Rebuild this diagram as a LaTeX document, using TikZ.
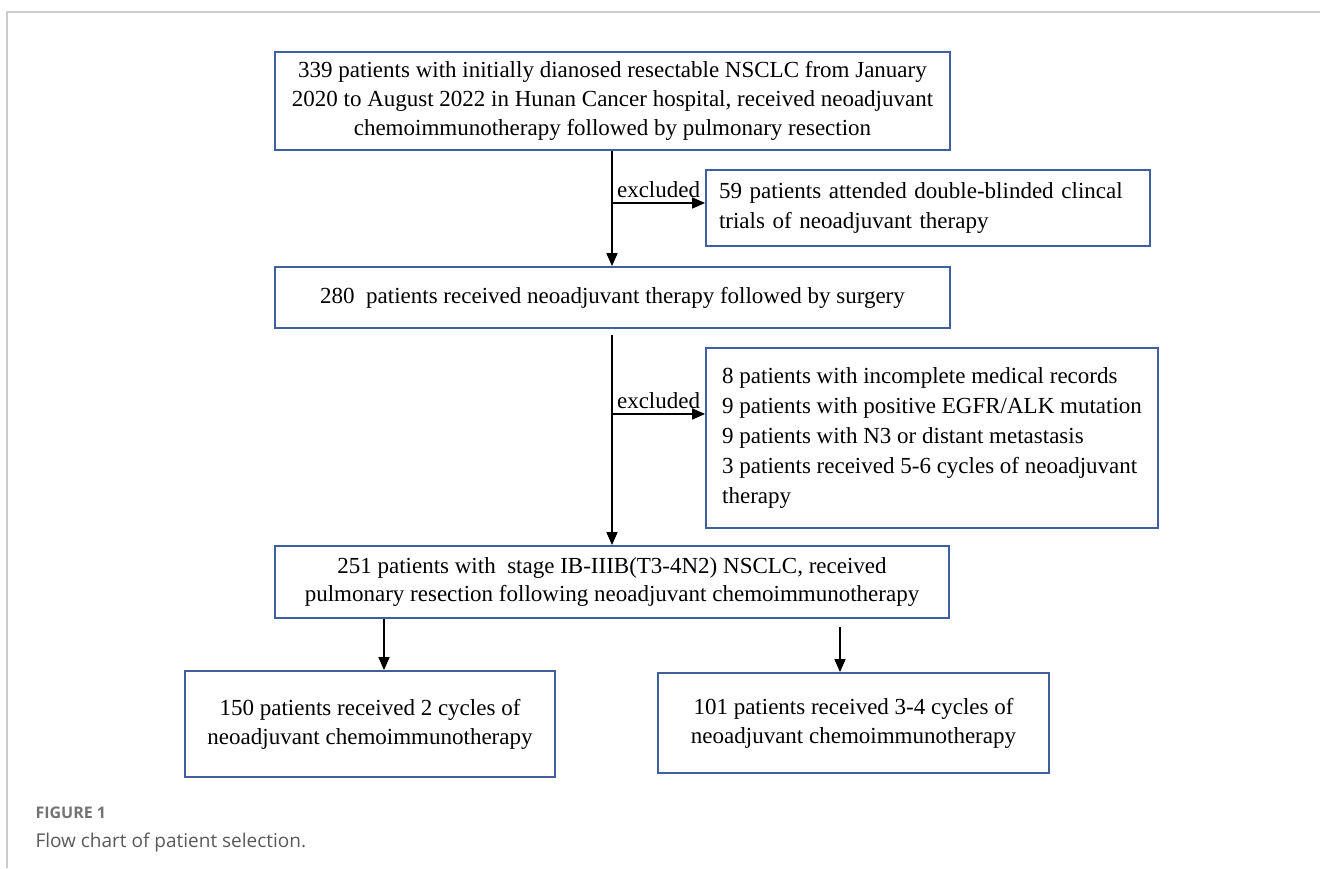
\documentclass[tikz,border=0pt]{standalone}
\usepackage{fontspec}
\setmainfont{Liberation Serif}
\newfontfamily\captionfont{Open Sans}
\usetikzlibrary{positioning,arrows.meta}
\definecolor{boxblue}{RGB}{62,96,156}

\begin{document}
\begin{tikzpicture}[x=1pt, y=-1pt,
    flowbox/.style={rectangle, draw=boxblue, line width=1.8pt, inner xsep=13pt, inner ysep=0pt},
    centretext/.style={font=\fontsize{23}{28.8}\selectfont, align=center},
    listtext/.style={font=\fontsize{23}{30}\selectfont, align=left},
    flowarrow/.style={->, >={Triangle[length=13pt, width=11pt]}, draw=black, line width=1.5pt}
    ]
        \useasboundingbox (0,0) rectangle (1320,868);
        %Frame
        \draw[black!20, line width=1.5pt] (7,868) -- (7,12) -- (1320,12);

        %Nodes
        \node[flowbox, centretext, minimum width=675pt, minimum height=98pt]
            (all) at (612.5,101) {339 patients with initially dianosed resectable NSCLC from January\\
            2020 to August 2022 in Hunan Cancer hospital, received neoadjuvant\\
            chemoimmunotherapy followed by pulmonary resection};
        \node[flowbox, listtext, text width=418pt, minimum height=76pt]
            (trials) at (928,208) {59 patients attended double-blinded clincal\\
            trials of neoadjuvant therapy};
        \node[flowbox, centretext, minimum width=675pt, minimum height=61pt]
            (surgery) at (612.5,297.5) {280\ \ patients received neoadjuvant therapy followed by surgery};
        \node[flowbox, listtext, minimum width=452pt, minimum height=180pt, inner xsep=8pt]
            (other) at (932,438) {8 patients with incomplete medical records\\
            9 patients with positive EGFR/ALK mutation\\
            9 patients with N3 or distant metastasis\\
            3 patients received 5-6 cycles of neoadjuvant\\
            therapy};
        \node[flowbox, centretext, minimum width=674pt, minimum height=72pt]
            (cohort) at (612,582) {251 patients with\ \ stage IB-IIIB(T3-4N2) NSCLC, received\\
            pulmonary resection following neoadjuvant chemoimmunotherapy};
        \node[flowbox, centretext, minimum width=370pt, minimum height=106pt]
            (two) at (370,724) {150 patients received 2 cycles of\\
            neoadjuvant chemoimmunotherapy};
        \node[flowbox, centretext, minimum width=391pt, minimum height=100pt]
            (four) at (853.5,723) {101 patients received 3-4 cycles of\\
            neoadjuvant chemoimmunotherapy};

        \coordinate (trunk) at (612,0);
        \coordinate (br1) at (612,203);
        \coordinate (gap) at (612,335);
        \coordinate (br2) at (612,414);
        \coordinate (left) at (384,0);
        \coordinate (gap4) at (840,627);

        %Lines
        \draw[flowarrow] (all.south -| trunk) -- (surgery.north -| trunk);
        \draw[flowarrow] (br1) -- (br1 -| trials.west)
            node[pos=0.5, above=1pt, listtext] (exlab1) {excluded};
        \draw[flowarrow] (gap) -- (cohort.north -| trunk);
        \draw[flowarrow] (br2) -- (br2 -| other.west)
            node[pos=0.5, above=1pt, listtext] (exlab2) {excluded};
        \draw[flowarrow] (cohort.south -| left) -- (two.north -| left);
        \draw[flowarrow] (gap4) -- (four.north -| gap4);

        %Caption
        \node[anchor=base west, text=black!55, font=\captionfont\bfseries\fontsize{16}{18}\selectfont]
            (figlabel) at (32,818) {FIGURE 1};
        \node[anchor=base west, text=black!65, font=\captionfont\fontsize{19}{22}\selectfont]
            (figcaption) at (32,847) {Flow chart of patient selection.};
    \end{tikzpicture}
\end{document}
